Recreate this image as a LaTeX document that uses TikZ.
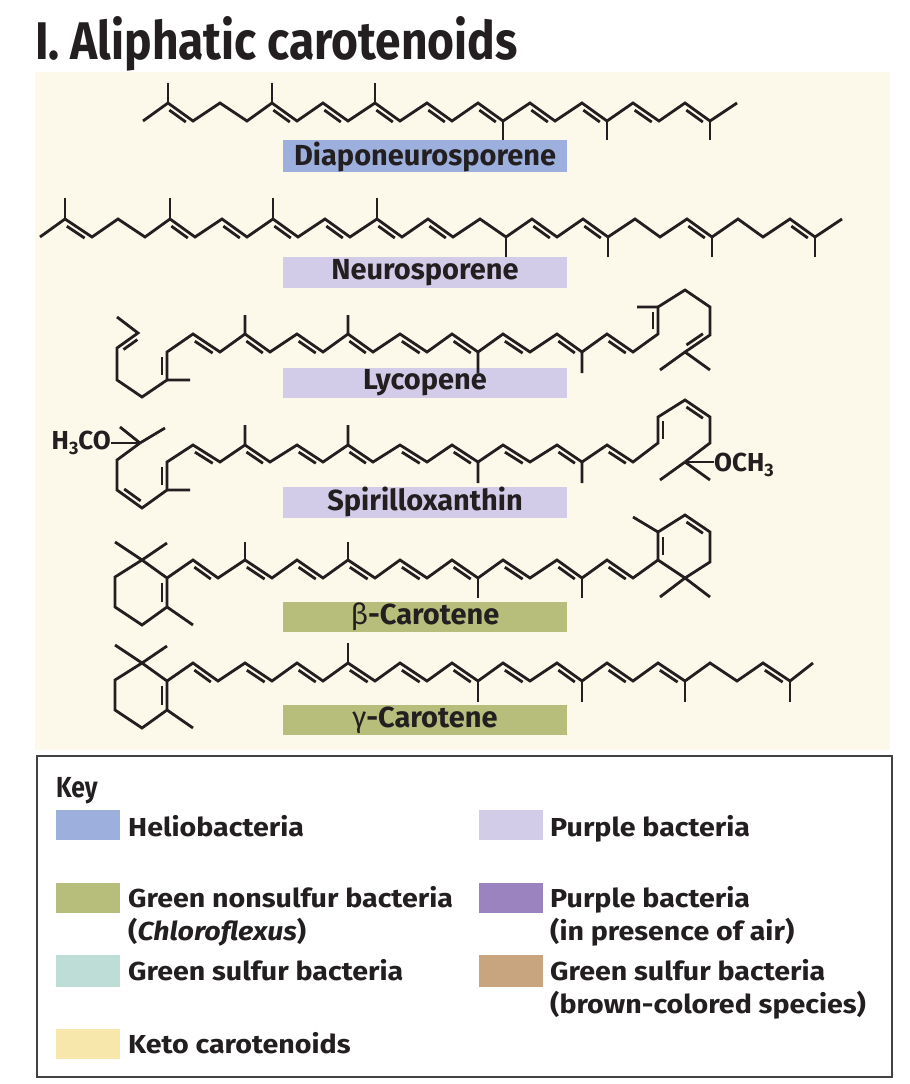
\documentclass[tikz,border=0pt]{standalone}
\usepackage{fontspec}
\setmainfont{Fira Sans}
\usetikzlibrary{calc}
\definecolor{panel}{HTML}{FCF8EA}
\definecolor{helio}{HTML}{9DB0DD}
\definecolor{purp}{HTML}{D3CCE9}
\definecolor{purpd}{HTML}{9A83BE}
\definecolor{gns}{HTML}{B7BD7A}
\definecolor{gs}{HTML}{BEDDD6}
\definecolor{keto}{HTML}{F8E7AA}
\definecolor{brown}{HTML}{C9A57F}
\definecolor{ink}{HTML}{231F20}
\newcommand\dbR[2]{\draw[bond] ($(#1)!0.17!(#2)!5pt!-90:(#2)$) -- ($(#2)!0.17!(#1)!5pt!90:(#1)$);}
\newcommand\dbL[2]{\draw[bond] ($(#1)!0.17!(#2)!5pt!90:(#2)$) -- ($(#2)!0.17!(#1)!5pt!-90:(#1)$);}
\tikzset{
  bond/.style={line width=2.8pt,draw=ink,line join=miter,line cap=butt},
  lbl/.style={font=\fontsize{29}{29}\selectfont\bfseries,text=ink,xscale=1.0,inner sep=0pt},
  keyt/.style={font=\fontsize{26}{33}\selectfont\bfseries,text=ink,anchor=base west,inner sep=0pt,align=left,xscale=1.1},
}
\begin{document}
\begin{tikzpicture}[x=1pt,y=-1pt]
\useasboundingbox (0,0) rectangle (910,1084);
\fill[white] (0,0) rectangle (910,1084);
\node[font=\fontsize{53}{53}\selectfont\bfseries,text=ink,anchor=base west,inner sep=0pt,xscale=0.87] (title) at (35,59) {I. Aliphatic carotenoids};
\fill[panel] (35,72) rectangle (890,750);
% label boxes
\fill[helio] (283,140) rectangle (567,172);
\fill[purp] (283,257) rectangle (567,288);
\fill[purp] (283,368) rectangle (567,398);
\fill[purp] (283,487) rectangle (567,518);
\fill[gns] (283,602) rectangle (567,632);
\fill[gns] (283,705) rectangle (567,735);
\node[lbl] (ldia) at (425,157) {Diaponeurosporene};
\node[lbl] (lneu) at (425,273) {Neurosporene};
\node[lbl] (llyc) at (425,383) {Lycopene};
\node[lbl] (lspi) at (425,502) {Spirilloxanthin};
\node[lbl] (lbet) at (425,617) {{\mdseries β}-Carotene};
\node[lbl] (lgam) at (425,720) {{\mdseries γ}-Carotene};
% Diaponeurosporene
\draw[bond] (143,121)--(168,103)--(193,121)--(220,103)--(247,121)--(272,103)--(297,121)--(323,103)--(348,121)--(375,103)--(400,121)--(427,103)--(452,121)--(478,103)--(503,121)--(530,103)--(555,121)--(582,103)--(607,121)--(633,103)--(659,121)--(685,103)--(710,121)--(737,103);
\draw[bond] (168,103)--(168,83) (272,103)--(272,83) (375,103)--(375,83) (503,121)--(503,140) (607,121)--(607,140) (710,121)--(710,140);
\foreach \a/\b in {168/193,272/297,323/348,375/400,427/452,478/503,530/555,582/607,633/659,685/710} {\dbR{\a,103}{\b,121}}
% Neurosporene
\draw[bond] (40,237)--(65,219)--(92,237)--(118,219)--(145,237)--(170,219)--(195,237)--(222,219)--(247,237)--(273,219)--(298,237)--(325,219)--(350,237)--(377,219)--(402,237)--(428,219)--(453,237)--(480,219)--(506,237)--(532,219)--(557,237)--(583,219)--(608,237)--(635,219)--(660,237)--(687,219)--(712,237)--(738,219)--(763,237)--(790,219)--(815,237)--(842,219);
\draw[bond] (65,219)--(65,198) (170,219)--(170,198) (273,219)--(273,198) (377,219)--(377,198) (506,237)--(506,257) (608,237)--(608,257) (712,237)--(712,257) (815,237)--(815,257);
\foreach \a/\b in {65/92,170/195,222/247,273/298,325/350,377/402,428/453,532/557,583/608,687/712,790/815} {\dbR{\a,219}{\b,237}}
% Lycopene
\draw[bond] (117,317)--(138,333)--(117,348)--(117,380)--(142,397)--(167,380)--(167,352)--(193,334)--(220,352)--(245,334)--(270,352)--(297,334)--(323,352)--(348,334)--(373,352)--(400,334)--(427,352)--(452,334)--(478,352)--(503,334)--(530,352)--(557,334)--(582,352)--(607,334)--(633,352)--(658,334)--(658,307)--(685,290)--(710,307)--(710,335)--(685,352)--(660,370);
\draw[bond] (685,352)--(710,370) (167,380)--(190,380) (245,334)--(245,315) (348,334)--(348,315) (478,352)--(478,373) (582,352)--(582,373) (658,307)--(637,307);
\dbR{117,348}{138,333}
\dbL{167,380}{167,352}
\foreach \a/\b in {193/220,245/270,297/323,348/373,400/427,452/478,503/530,557/582,607/633} {\dbR{\a,334}{\b,352}}
\dbL{658,334}{658,307}
\dbL{685,352}{710,335}
% Spirilloxanthin
\node[font=\fontsize{26}{26}\selectfont\bfseries,text=ink,anchor=east,inner sep=0pt] (meo1) at (111,443) {H\raisebox{-0.35ex}{\fontsize{18}{18}\selectfont 3}CO};
\node[font=\fontsize{26}{26}\selectfont\bfseries,text=ink,anchor=west,inner sep=0pt] (meo2) at (714,465) {OCH\raisebox{-0.35ex}{\fontsize{18}{18}\selectfont 3}};
\coordinate (qL) at (140,443);
\coordinate (qR) at (685,462);
\draw[bond] (meo1.east) -- (qL);
\draw[bond] (meo2.west |- qR) -- (qR);
\draw[bond] (qL)--(117,460)--(117,490)--(142,508)--(167,490)--(167,462)--(193,445)--(220,462)--(245,445)--(270,462)--(297,445)--(323,462)--(348,445)--(373,462)--(400,445)--(427,462)--(452,445)--(478,462)--(503,445)--(530,462)--(557,445)--(582,462)--(607,445)--(633,462)--(658,443)--(658,417)--(685,400)--(710,417)--(710,443)--(qR);
\draw[bond] (qL)--(120,427) (qL)--(165,428) (qR)--(660,480) (qR)--(710,480) (167,490)--(190,490) (245,445)--(245,425) (348,445)--(348,425) (478,462)--(478,483) (582,462)--(582,483);
\dbL{117,490}{142,508}
\dbL{167,490}{167,462}
\foreach \a/\b in {193/220,245/270,297/323,348/373,400/427,452/478,503/530,557/582,607/633} {\dbR{\a,445}{\b,462}}
\dbR{658,443}{658,417}
\dbR{685,400}{710,417}
% beta-Carotene
\draw[bond] (142,560)--(115,577)--(115,607)--(142,625)--(167,607)--(167,578)--cycle;
\draw[bond] (142,560)--(115,542) (142,560)--(167,543) (167,607)--(193,625);
\draw[bond] (167,578)--(193,560)--(218,578)--(245,560)--(272,578)--(297,560)--(323,578)--(348,560)--(375,578)--(400,560)--(427,578)--(452,560)--(478,578)--(503,560)--(530,578)--(557,560)--(582,578)--(607,560)--(633,578)--(658,560);
\draw[bond] (245,560)--(245,542) (348,560)--(348,542) (478,578)--(478,598) (582,578)--(582,598);
\draw[bond] (658,560)--(658,532)--(685,515)--(710,532)--(710,562)--(685,578)--cycle;
\draw[bond] (658,532)--(633,517) (685,578)--(660,597) (685,578)--(710,597);
\dbR{167,578}{167,607}
\foreach \a/\b in {193/218,245/272,297/323,348/375,400/427,452/478,503/530,557/582,607/633} {\dbR{\a,560}{\b,578}}
\dbR{658,560}{658,532}
\dbR{685,515}{710,532}
% gamma-Carotene
\draw[bond] (142,663)--(115,680)--(115,710)--(142,728)--(167,710)--(167,681)--cycle;
\draw[bond] (142,663)--(115,645) (142,663)--(167,646) (167,710)--(193,728);
\draw[bond] (167,681)--(193,663)--(218,681)--(245,663)--(272,681)--(297,663)--(323,681)--(348,663)--(375,681)--(400,663)--(427,681)--(452,663)--(478,681)--(503,663)--(530,681)--(557,663)--(582,681)--(607,663)--(633,681)--(658,663)--(685,681)--(710,663)--(737,681)--(763,663)--(790,681)--(813,663);
\draw[bond] (348,663)--(348,643) (478,681)--(478,702) (582,681)--(582,702) (685,681)--(685,702) (790,681)--(790,702);
\dbR{167,681}{167,710}
\foreach \a/\b in {193/218,245/272,297/323,348/375,400/427,452/478,503/530,557/582,607/633,658/685,763/790} {\dbR{\a,663}{\b,681}}
% Key
\draw[line width=2pt,draw=ink!85] (37,756) rectangle (892,1077);
\node[font=\fontsize{29}{29}\selectfont\bfseries,text=ink,anchor=base west,inner sep=0pt,xscale=0.85] (key) at (56,797) {Key};
\fill[helio] (56,810) rectangle (120,840);
\fill[gns] (56,883) rectangle (120,913);
\fill[gs] (56,955) rectangle (120,987);
\fill[keto] (56,1029) rectangle (120,1059);
\fill[purp] (479,810) rectangle (543,840);
\fill[purpd] (479,883) rectangle (543,913);
\fill[brown] (479,955) rectangle (543,987);
\node[keyt] (k1) at (128,836) {Heliobacteria};
\node[keyt] (k2) at (128,940) {Green nonsulfur bacteria\\({\itshape Chloroflexus})};
\node[keyt] (k3) at (128,980) {Green sulfur bacteria};
\node[keyt] (k4) at (128,1053) {Keto carotenoids};
\node[keyt] (k5) at (550,836) {Purple bacteria};
\node[keyt] (k6) at (550,940) {Purple bacteria\\(in presence of air)};
\node[keyt] (k7) at (550,1013) {Green sulfur bacteria\\(brown-colored species)};
\end{tikzpicture}
\end{document}
